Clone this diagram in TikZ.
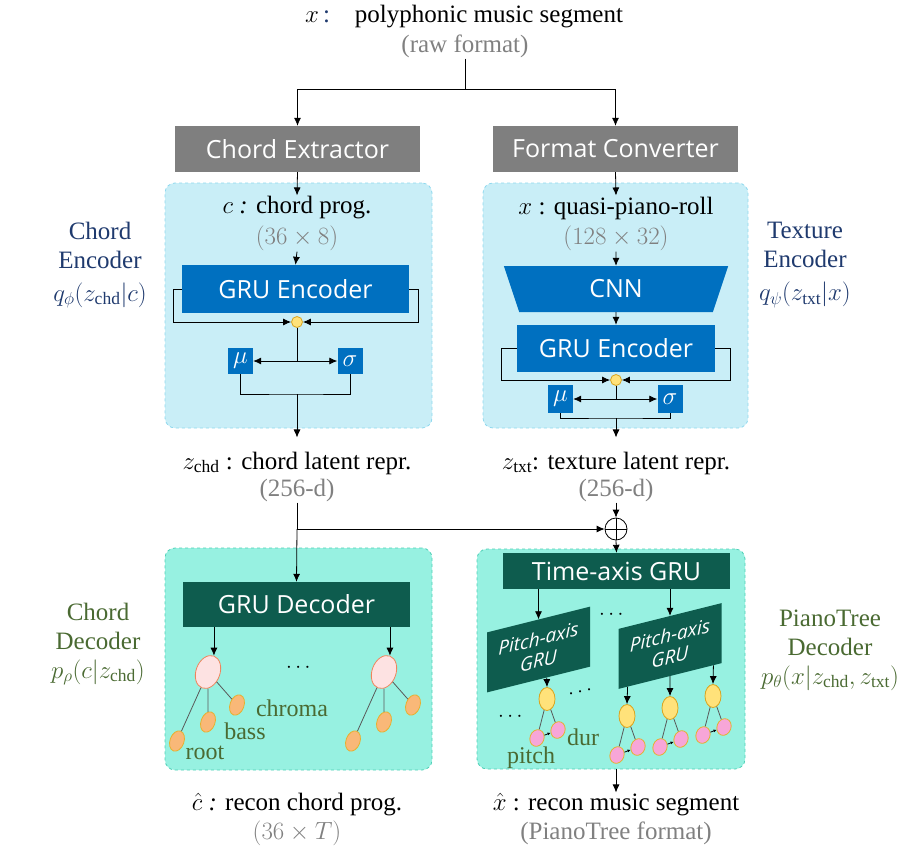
\documentclass[tikz,border=0pt]{standalone}
\usepackage{amsmath}
\usepackage{fontspec}
\setmainfont{Liberation Serif}
\newfontfamily\uifont{Open Sans}
\usetikzlibrary{shapes.geometric, arrows.meta, positioning, calc}

\definecolor{boxgray}{HTML}{7F7F7F}
\definecolor{encfill}{HTML}{C9EEF7}
\definecolor{encedge}{HTML}{8ED8EE}
\definecolor{encblue}{HTML}{0070C0}
\definecolor{decfill}{HTML}{97F1E1}
\definecolor{decedge}{HTML}{4ECFB6}
\definecolor{decgreen}{HTML}{0E5C4E}
\definecolor{dotfill}{HTML}{FFE27A}
\definecolor{dotedge}{HTML}{D9A520}
\definecolor{rootfill}{HTML}{FDE2E2}
\definecolor{rootedge}{HTML}{F0845C}
\definecolor{leaffill}{HTML}{F9B878}
\definecolor{leafedge}{HTML}{E6B030}
\definecolor{pinkfill}{HTML}{F7A6D8}
\definecolor{txtgray}{HTML}{808080}
\definecolor{encnavy}{HTML}{1F3A6E}
\definecolor{decolive}{HTML}{4A6A32}

\tikzset{
  arr/.style={-{Latex[length=8pt,width=7pt]}, line width=0.8pt},
  treeline/.style={line width=0.8pt, draw=black!65},
  panel/.style={rounded corners=10pt, dashed, line width=0.8pt, inner sep=0},
  encpanel/.style={panel, draw=encedge, fill=encfill},
  decpanel/.style={panel, draw=decedge, fill=decfill},
  uibox/.style={text=white, inner sep=0, font=\uifont\fontsize{25}{29}\selectfont},
  graybox/.style={uibox, fill=boxgray, minimum width=245pt, minimum height=46pt},
  encbox/.style={uibox, fill=encblue},
  decbox/.style={uibox, fill=decgreen},
  pitchbox/.style={decbox, yslant=0.25, minimum width=103pt, minimum height=60pt,
    align=center, font=\uifont\itshape\fontsize{19}{22}\selectfont},
  msbox/.style={fill=encblue, text=white, inner sep=0, minimum width=25pt,
    minimum height=26pt, font=\fontsize{24}{26}\selectfont},
  yelldot/.style={circle, fill=dotfill, draw=dotedge, line width=0.8pt,
    minimum size=11pt, inner sep=0},
  chroot/.style={ellipse, fill=rootfill, draw=rootedge, line width=0.8pt,
    minimum width=24pt, minimum height=34pt, inner sep=0, rotate=-20},
  chleaf/.style={ellipse, fill=leaffill, draw=leafedge, line width=0.8pt,
    minimum width=14pt, minimum height=21pt, inner sep=0, rotate=-20},
  notehead/.style={ellipse, fill=dotfill, draw=dotedge, line width=0.8pt,
    minimum width=16pt, minimum height=23pt, inner sep=0},
  notepk/.style={ellipse, fill=pinkfill, draw=leafedge, line width=0.8pt,
    minimum width=14pt, minimum height=17pt, inner sep=0, rotate=-20},
  lbl/.style={inner sep=1pt, font=\fontsize{25}{29}\selectfont},
  dim/.style={lbl, text=txtgray},
  enctag/.style={lbl, text=encnavy, align=center},
  dectag/.style={lbl, text=decolive, align=center},
  leaftxt/.style={inner sep=0, text=decolive, font=\fontsize{24}{26}\selectfont},
  dotstxt/.style={inner sep=0, font=\fontsize{22}{22}\selectfont}
}

\begin{document}
\begin{tikzpicture}[x=1pt, y=-1pt]
\useasboundingbox (0,0) rectangle (923,849);

% Panels
\node[encpanel, minimum width=267pt, minimum height=245pt] (cep) at (298.5,305.5) {};
\node[encpanel, minimum width=265pt, minimum height=245pt] (tep) at (615.5,305.5) {};
\node[decpanel, minimum width=267pt, minimum height=222pt] (cdp) at (298.5,659) {};
\node[decpanel, minimum width=268pt, minimum height=220pt] (ptp) at (611,659) {};

% Input and preprocessing
\node[lbl] (xin) at (464,17) {$x$\,\textcolor{encnavy}{:}\quad polyphonic music segment};
\node[dim] (raw) at (465,46) {(raw format)};
\node[graybox] (ext) at (297.5,149) {Chord Extractor};
\node[graybox] (conv) at (615.5,149) {Format Converter};
\coordinate (fork) at (465,89);
\draw[line width=0.8pt] (raw.south) -- (fork);
\draw[arr] (fork) -| (ext.north);
\draw[arr] (fork) -| (conv.north);

% Chord encoder
\node[lbl] (cin) at (297,208) {$c$ \textit{:} chord prog.};
\node[dim] (cindim) at (297,238) {$(36\times 8)$};
\draw[arr] (ext.south) -- (cin.north);
\node[encbox, minimum width=227pt, minimum height=48pt] (cgru) at (295.5,289) {GRU Encoder};
\draw[arr] (cindim.south) -- (cgru.north);
\node[yelldot] (cdot) at (297,322) {};
\draw[arr] (cgru.west) -- ++(-8,0) |- (cdot.west);
\draw[arr] (cgru.east) -- ++(9,0) |- (cdot.east);
\node[msbox] (cmu) at (240.5,361) {$\mu$};
\node[msbox] (csig) at (350,361) {$\sigma$};
\draw[line width=0.8pt] (cdot.south) -- (cdot.south |- cmu.east) coordinate (csplit);
\draw[arr] (csplit) -- (cmu.east);
\draw[arr] (csplit) -- (csig.west);
\coordinate (cjoin) at (297,394);
\draw[line width=0.8pt] (cmu.south) |- (cjoin) -| (csig.south);
\node[lbl] (zc) at (297,463) {$z_{\text{chd}}$ : chord latent repr.};
\draw[arr, shorten >=13pt] (cjoin) -- (zc.north);
\node[dim] (zcdim) at (297,490) {(256-d)};

% Texture encoder
\node[lbl] (tin) at (616,208) {$x$ : quasi-piano-roll};
\node[dim] (tindim) at (616,238) {$(128\times 32)$};
\draw[arr] (conv.south) -- (tin.north);
\node[trapezium, shape border rotate=180, trapezium left angle=77, trapezium right angle=77,
  trapezium stretches=true, minimum width=225pt, minimum height=46pt, fill=encblue,
  uibox] (cnn) at (616,289) {CNN};
\draw[arr] (tindim.south) -- (cnn.north);
\node[encbox, minimum width=198pt, minimum height=47pt] (tgru) at (616,348.5) {GRU Encoder};
\draw[arr] (cnn.south) -- (tgru.north);
\node[yelldot] (tdot) at (616,380) {};
\draw[arr] (tgru.west) -- ++(-15,0) |- (tdot.west);
\draw[arr] (tgru.east) -- ++(15,0) |- (tdot.east);
\node[msbox, minimum height=28pt] (tmu) at (560.5,399) {$\mu$};
\node[msbox, minimum height=28pt] (tsig) at (670,399) {$\sigma$};
\draw[line width=0.8pt] (tdot.south) -- (tdot.south |- tmu.east) coordinate (tsplit);
\draw[arr] (tsplit) -- (tmu.east);
\draw[arr] (tsplit) -- (tsig.west);
\coordinate (tjoin) at (616,418);
\draw[line width=0.8pt] (tmu.south) |- (tjoin) -| (tsig.south);
\node[lbl] (zt) at (616,463) {$z_{\text{txt}}$: texture latent repr.};
\draw[arr, shorten >=13pt] (tjoin) -- (zt.north);
\node[dim] (ztdim) at (616,490) {(256-d)};

% Side labels
\node[enctag] (cenctag) at (100,265) {Chord\\Encoder\\[4pt]$q_\phi(z_{\text{chd}}|c)$};
\node[enctag] (tenctag) at (805,265) {Texture\\Encoder\\[4pt]$q_\psi(z_{\text{txt}}|x)$};
\node[dectag] (cdectag) at (98,644) {Chord\\Decoder\\$p_\rho(c|z_{\text{chd}})$};
\node[dectag] (ptdectag) at (830,650) {PianoTree\\Decoder\\$p_\theta(x|z_{\text{chd}},z_{\text{txt}})$};

% Latent merge
\node[circle, draw, line width=0.8pt, minimum size=22pt, inner sep=0] (plus) at (616,529) {};
\draw[line width=0.8pt] (plus.north) -- (plus.south) (plus.west) -- (plus.east);
\draw[arr] (ztdim.south) -- (plus.north);
\draw[line width=0.8pt] (zcdim.south) -- (zcdim.south |- plus.west) coordinate (zsplit);
\draw[arr] (zsplit) -- (plus.west);

% Chord decoder
\node[decbox, minimum width=227pt, minimum height=45pt] (cdec) at (296.5,604.5) {GRU Decoder};
\draw[arr] (zsplit) -- (cdec.north);
\foreach \t/\x in {a/208, b/384} {
  \node[chroot] (r\t) at (\x,672) {};
  \draw[arr] (cdec.south -| r\t.north) -- (r\t.north);
  \node[chleaf] (\t1) at (\x+29,705) {};
  \node[chleaf] (\t2) at (\x,722) {};
  \node[chleaf] (\t3) at (\x-31,741) {};
  \foreach \k in {1,2,3}
    \draw[treeline] (r\t) -- (\t\k);
}
\node[leaftxt] (chroma) at (292,708) {chroma};
\node[leaftxt] (bass) at (245,731) {bass};
\node[leaftxt] (root) at (205,753) {root};
\node[dotstxt] (cdots) at (300,668) {$\cdots$};

% PianoTree decoder
\node[decbox, minimum width=227pt, minimum height=36pt] (tax) at (616.5,571) {Time-axis GRU};
\draw[arr] (plus.south) -- (tax.north);
\node[pitchbox] (pl) at (538.5,649.5) {Pitch-axis\\GRU};
\node[pitchbox] (pr) at (670,646) {Pitch-axis\\GRU};
\draw[arr] (tax.south -| pl.north) -- (pl.north);
\draw[arr] (tax.south -| pr.north) -- (pr.north);
\node[dotstxt] (pdots) at (613,615) {$\cdots$};
\foreach \i/\x/\y/\src/\f in {0/547/699/pl/0.58, 1/627/716/pr/0.09, 2/670/708/pr/0.5, 3/713/696/pr/0.92} {
  \node[notehead] (h\i) at (\x,\y) {};
  \draw[arr] ($(\src.south west)!\f!(\src.south east)$) -- (h\i.north);
  \node[notepk] (pa\i) at (\x-10,\y+39) {};
  \node[notepk] (pb\i) at (\x+11,\y+31) {};
  \draw[treeline] (h\i) -- (pa\i);
  \draw[treeline] (h\i) -- (pb\i);
  \draw[-{Latex[length=3pt,width=3pt]}, line width=0.8pt] (pa\i) -- (pb\i);
}
\node[leaftxt] (dur) at (583,737) {dur};
\node[leaftxt] (pitch) at (531,758) {pitch};
\node[dotstxt] (ndotsa) at (512,717) {$\cdots$};
\node[dotstxt, rotate=14] (ndotsb) at (582,692) {$\cdots$};

% Outputs
\node[lbl] (ch) at (297,805) {$\hat{c}$ \textit{:} recon chord prog.};
\node[dim] (chdim) at (297,833) {$(36\times T)$};
\node[lbl] (xh) at (616,805) {$\hat{x}$ : recon music segment};
\node[dim] (xhdim) at (616,833) {(PianoTree format)};
\draw[arr] (ptp.south -| xh.north) -- (xh.north);
\end{tikzpicture}
\end{document}
